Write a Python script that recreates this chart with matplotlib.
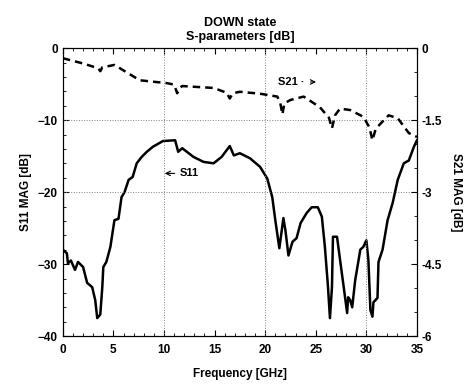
import numpy as np
import matplotlib
matplotlib.use("Agg")
import matplotlib.pyplot as plt
from matplotlib.ticker import MultipleLocator

plt.rcParams['font.family'] = ['Liberation Sans', 'DejaVu Sans']
plt.rcParams['font.weight'] = 'bold'

# S11 magnitude (left axis, dB)
f_s11 = [0.0, 0.0, 0.4, 0.5, 0.8, 1.2, 1.5, 2.0, 2.4, 2.9, 3.2, 3.4, 3.7, 3.9, 4.0,
         4.3, 4.7, 5.1, 5.5, 5.8, 6.1, 6.5, 6.9, 7.3, 7.8, 8.3, 8.9, 9.9, 11.1,
         11.4, 11.8, 12.9, 13.9, 14.9, 15.7, 16.5, 16.9, 17.5, 18.5, 19.5, 20.2,
         20.7, 21.0, 21.4, 21.8, 22.0, 22.3, 22.7, 23.1, 23.5, 24.1, 24.6, 25.2,
         25.6, 25.9, 26.2, 26.4, 26.6, 26.7, 27.1, 27.4, 27.8, 28.1, 28.2, 28.4,
         28.6, 28.9, 29.2, 29.4, 29.7, 30.0, 30.2, 30.4, 30.6, 30.7, 31.1, 31.2,
         31.6, 32.1, 32.6, 33.1, 33.7, 34.2, 34.7, 35.0]
s11 = [-20.1, -28.0, -28.5, -29.9, -29.5, -30.8, -29.7, -30.4, -32.6, -33.2, -35.0,
       -37.5, -37.0, -33.2, -30.4, -29.7, -27.6, -23.9, -23.7, -20.7, -20.0, -18.3,
       -17.9, -16.0, -15.1, -14.4, -13.7, -12.9, -12.8, -14.4, -13.9, -15.1, -15.8,
       -16.0, -15.1, -13.6, -14.9, -14.6, -15.3, -16.5, -18.1, -20.7, -23.9, -27.8,
       -23.6, -25.3, -28.8, -26.9, -26.4, -24.3, -22.9, -22.1, -22.1, -23.4, -27.6,
       -33.0, -37.5, -33.2, -26.2, -26.2, -29.4, -33.6, -36.8, -34.6, -35.0, -36.0,
       -32.2, -29.7, -28.0, -27.6, -26.7, -29.4, -36.4, -37.3, -35.3, -34.7, -29.7,
       -28.0, -23.9, -21.5, -18.3, -16.0, -15.6, -13.7, -12.8]

# S21 magnitude (right axis, dB)
f_s21 = [0.0, 2.0, 3.5, 3.7, 3.9, 5.1, 7.6, 10.3, 11.0, 11.3, 11.6, 11.8, 14.9,
         16.2, 16.5, 16.8, 17.5, 19.5, 21.2, 21.5, 21.7, 21.9, 22.5, 23.8, 25.4,
         26.3, 26.6, 26.9, 27.4, 28.4, 29.7, 30.3, 30.6, 30.9, 31.1, 32.2, 33.1,
         34.2, 35.0]
s21 = [-0.21, -0.32, -0.42, -0.48, -0.40, -0.35, -0.67, -0.73, -0.76, -0.94, -0.82,
       -0.79, -0.83, -0.93, -1.05, -0.94, -0.91, -0.95, -1.01, -1.15, -1.38, -1.15,
       -1.08, -1.01, -1.23, -1.45, -1.67, -1.40, -1.26, -1.29, -1.43, -1.65, -1.92,
       -1.70, -1.64, -1.40, -1.46, -1.77, -1.85]

fig = plt.figure(figsize=(4.69, 3.85), dpi=100)
ax = fig.add_axes([0.134, 0.127, 0.755, 0.748])
ax2 = ax.twinx()

ax.plot(f_s11, s11, color='black', linewidth=1.8)
ax2.plot(f_s21, s21, color='black', linewidth=1.8, linestyle=(0, (3, 2)))

ax.set_xlim(0, 35)
ax.set_ylim(-40, 0)
ax2.set_ylim(-6, 0)
ax.set_xticks([0, 5, 10, 15, 20, 25, 30, 35])
ax.set_yticks([0, -10, -20, -30, -40])
ax2.set_yticks([0, -1.5, -3, -4.5, -6])
ax2.set_yticklabels(['0', '-1.5', '-3', '-4.5', '-6'])
ax.xaxis.set_minor_locator(MultipleLocator(1))
ax.yaxis.set_minor_locator(MultipleLocator(2))
ax2.yaxis.set_minor_locator(MultipleLocator(0.5))

for a in (ax, ax2):
    a.tick_params(which='both', direction='in', top=True, labelsize=8.5)
    a.tick_params(which='major', length=4)
    a.tick_params(which='minor', length=2)
    for s in a.spines.values():
        s.set_linewidth(0.8)
ax.tick_params(axis='x', pad=6)

for x in (10, 20, 30):
    ax.axvline(x, color='gray', linestyle=':', linewidth=0.7)
for y in (-10, -20):
    ax.axhline(y, color='gray', linestyle=':', linewidth=0.7)

ax.set_xlabel('Frequency [GHz]', fontsize=8.5, fontweight='bold', labelpad=8)
ax.set_ylabel('S11 MAG [dB]', fontsize=8.5, fontweight='bold')
ax2.set_ylabel('S21 MAG [dB]', fontsize=8.5, fontweight='bold', rotation=270, labelpad=14)
ax.set_title('DOWN state\nS-parameters [dB]', fontsize=9, fontweight='bold', pad=6)

ax.annotate('S21 ·', xy=(25.3, -4.7), xytext=(21.3, -4.7), fontsize=8,
            va='center', ha='left',
            arrowprops=dict(arrowstyle='->', color='black', lw=0.8))
ax.annotate('S11', xy=(9.8, -17.4), xytext=(11.6, -17.4), fontsize=8,
            va='center', ha='left',
            arrowprops=dict(arrowstyle='->', color='black', lw=0.8))

fig.savefig('out.png', dpi=100)
